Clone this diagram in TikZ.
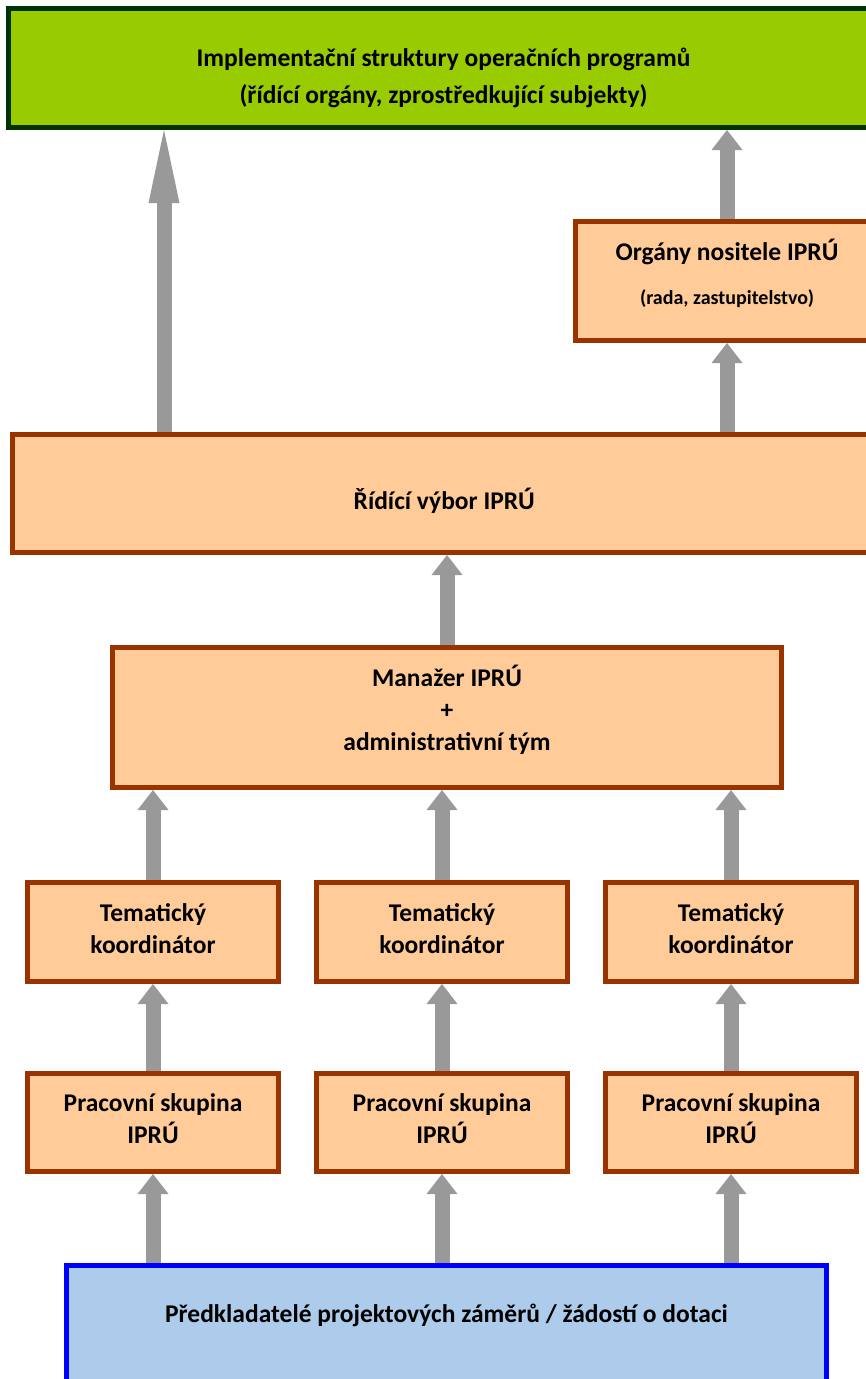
\documentclass[tikz,border=0pt]{standalone}
\usepackage{fontspec}
\setmainfont{Carlito}
\usetikzlibrary{arrows.meta}
\definecolor{implgreen}{HTML}{99CC00}
\definecolor{impledge}{HTML}{003300}
\definecolor{boxfill}{HTML}{FFCC99}
\definecolor{boxedge}{HTML}{993300}
\definecolor{subfill}{HTML}{ADCCEB}
\definecolor{subedge}{HTML}{0000FF}
\definecolor{arrowgray}{HTML}{999999}

\begin{document}
\begin{tikzpicture}[x=1pt,y=-1pt,
  box/.style={draw=boxedge,fill=boxfill,line width=5pt,inner sep=0pt,align=center,
    font=\bfseries\fontsize{25.5}{32}\selectfont},
  col/.style={box,minimum width=251pt,text depth=7pt},
  up/.style={color=arrowgray,line width=15pt,
    every edge/.append style={-{Triangle[width=31pt,length=20pt,line width=0pt]}}}]
  \clip (0,0) rectangle (866,1379);
  \node[box,fill=implgreen,draw=impledge,minimum width=870pt,minimum height=119pt,
    font=\bfseries\fontsize{25.5}{37}\selectfont,text height=76pt,text depth=6pt] (impl) at (443.5,68)
    {Implementační struktury operačních programů\\(řídící orgány, zprostředkující subjekty)};
  \node[box,minimum width=303pt,minimum height=119pt,text depth=19pt] (org) at (727,281)
    {Orgány nositele IPRÚ\\[12pt]{\fontsize{20}{24}\selectfont(rada, zastupitelstvo)}};
  \node[box,minimum width=863.5pt,minimum height=118pt,text height=36pt,text depth=4pt] (rid) at (444.25,493.5)
    {Řídící výbor IPRÚ};
  \node[box,minimum width=669pt,minimum height=140pt,text depth=20pt] (man) at (447,717.5)
    {Manažer IPRÚ\\+\\administrativní tým};
  \node[col,minimum height=99pt] (t1) at (153,932) {Tematický\\koordinátor};
  \node[col,minimum height=99pt] (t2) at (442,932) {Tematický\\koordinátor};
  \node[col,minimum height=99pt] (t3) at (731,932) {Tematický\\koordinátor};
  \node[col,minimum height=98pt] (p1) at (153,1122.5) {Pracovní skupina\\IPRÚ};
  \node[col,minimum height=98pt] (p2) at (442,1122.5) {Pracovní skupina\\IPRÚ};
  \node[col,minimum height=98pt] (p3) at (731,1122.5) {Pracovní skupina\\IPRÚ};
  \node[box,fill=subfill,draw=subedge,minimum width=760pt,minimum height=160pt,text depth=65pt] (sub) at (446.5,1345.5)
    {Předkladatelé projektových záměrů / žádostí o dotaci};

  \path[up]
    (sub.north -| p1) edge (p1)
    (sub.north -| p2) edge (p2)
    (sub.north -| p3) edge (p3)
    (p1) edge (t1)
    (p2) edge (t2)
    (p3) edge (t3)
    (t1.north) edge (t1.north |- man.south)
    (t2.north) edge (t2.north |- man.south)
    (t3.north) edge (t3.north |- man.south)
    (man.north) edge (man.north |- rid.south)
    (rid.north -| org) edge (org)
    (org) edge (org.north |- impl.south)
    ([xshift=154pt]rid.north west) edge[-{Triangle[width=31pt,length=73pt,line width=0pt]}]
      ([xshift=154pt]rid.north west |- impl.south);
\end{tikzpicture}
\end{document}
